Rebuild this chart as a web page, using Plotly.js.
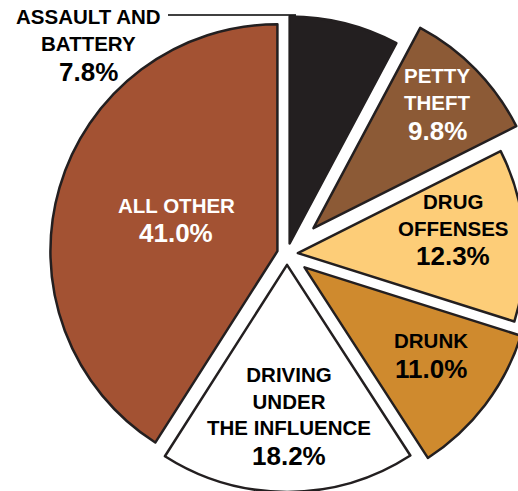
<!DOCTYPE html>
<html>
<head>
<meta charset="utf-8">
<script src="https://cdn.plot.ly/plotly-3.0.1.min.js"></script>
<style>
  html, body { margin: 0; padding: 0; background: #fff; overflow: hidden; width: 518px; height: 491px; }
  #plot { position: absolute; left: 0px; top: -10px; width: 574px; height: 528px; }
</style>
</head>
<body>
<div id="plot"></div>
<script>
// ---- data ----
const categories = ["ASSAULT AND<br>BATTERY", "PETTY<br>THEFT", "DRUG<br>OFFENSES", "DRUNK", "DRIVING<br>UNDER<br>THE INFLUENCE", "ALL OTHER"];
const shares = [7.8, 9.8, 12.3, 11.0, 18.2, 41.0];

// ---- styling ----
const sliceColors = ["#231f20", "#8c5a36", "#fdcd78", "#cf8a2e", "#ffffff", "#a35233"];
const textColors = ["#000000", "#ffffff", "#000000", "#000000", "#000000", "#ffffff"];
const pulls = [0.048, 0.163, 0.048, 0.097, 0.048, 0.044];
// label centres in page pixels: [x, nameY, pctY]
const labelPos = [[88, 30, 72], [437, 89, 131], [453, 215, 256], [431, 340, 369], [289, 401, 456], [176, 205, 233]];

const OFF_X = 0, OFF_Y = -10, W = 574, H = 528;
const px = x => (x - OFF_X) / W;
const py = y => 1 - (y - OFF_Y) / H;
const FONT = "Liberation Sans, Arial, Helvetica, sans-serif";

const annotations = [];
categories.forEach((c, i) => {
  const [x, ny, pyy] = labelPos[i];
  annotations.push({
    xref: "paper", yref: "paper", x: px(x), y: py(ny), xanchor: "center", yanchor: "middle",
    text: c, showarrow: false, align: "center",
    font: {family: FONT, size: 20.5, color: textColors[i], weight: 700}
  });
  annotations.push({
    xref: "paper", yref: "paper", x: px(x), y: py(pyy), xanchor: "center", yanchor: "middle",
    text: shares[i].toFixed(1) + "%", showarrow: false,
    font: {family: FONT, size: 26, color: textColors[i], weight: 700}
  });
});

const trace = {
  type: "pie",
  labels: categories,
  values: shares,
  sort: false,
  direction: "clockwise",
  rotation: 0,
  pull: pulls,
  textinfo: "none",
  hoverinfo: "none",
  marker: { colors: sliceColors, line: { color: "#231f20", width: 2.5 } },
  domain: { x: [0, 1], y: [0, 1] },
  showlegend: false
};

const layout = {
  width: W, height: H,
  margin: { l: 0, r: 0, t: 0, b: 0, pad: 0 },
  paper_bgcolor: "#ffffff",
  showlegend: false,
  annotations: annotations,
  shapes: [{
    type: "line", xref: "paper", yref: "paper",
    x0: px(168), x1: px(296), y0: py(15), y1: py(15),
    line: { color: "#000000", width: 1.5 }
  }]
};

Plotly.newPlot("plot", [trace], layout, { displayModeBar: false, staticPlot: true });
</script>
</body>
</html>
